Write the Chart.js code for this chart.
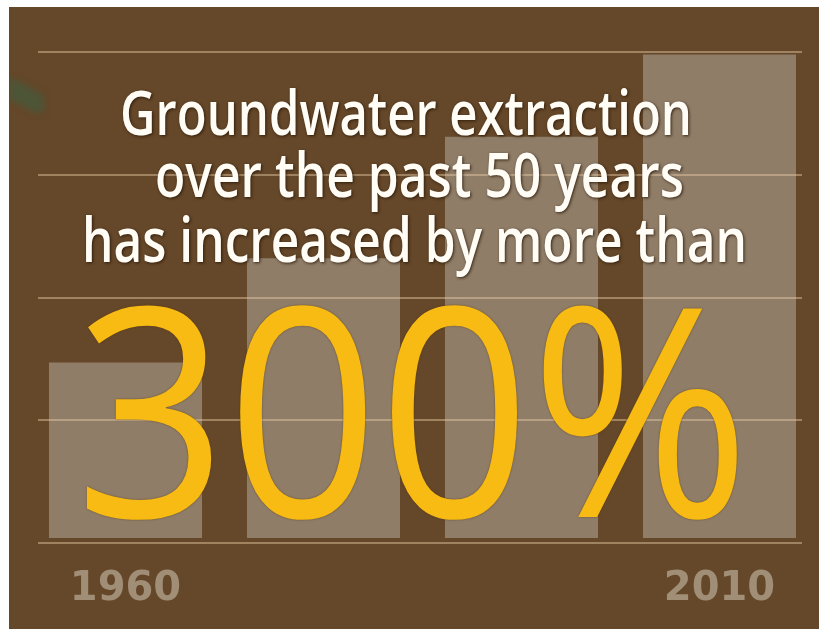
<!DOCTYPE html>
<html lang="en">
<head>
    <meta charset="UTF-8">
    <meta name="viewport" content="width=device-width, initial-scale=1.0">
    <title>Groundwater extraction</title>

    <script src="https://cdn.jsdelivr.net/npm/chart.js"></script>

    <style>
        body { margin: 0; background: #ffffff; }
        #chart-box {
            position: absolute;
            left: 9px;
            top: 7px;
            width: 810px;
            height: 622px;
        }
    </style>
</head>
<body>
    <div id="chart-box">
        <canvas id="groundwater_bar-chart"></canvas>
    </div>

    <script>
        // Data (grid step = 1 unit)
        var years = ["1960", "", "", "2010"];
        var extraction = [1.47, 2.32, 3.31, 3.98];
        var gridValues = [0, 1, 2, 3, 4];

        var titleLines = [
            "Groundwater extraction",
            "over the past 50 years",
            "has increased by more than"
        ];
        var bigNumber = "300%";

        // Paint brown background behind everything
        var backgroundPlugin = {
            id: "backgroundPlugin",
            beforeDraw: function (chart) {
                var ctx = chart.ctx;
                ctx.save();
                ctx.fillStyle = "#654729";
                ctx.fillRect(0, 0, chart.width, chart.height);

                // bit of a green leaf poking in at the left edge
                ctx.filter = "blur(3px)";
                ctx.fillStyle = "rgba(74, 86, 56, 0.9)";
                ctx.beginPath();
                ctx.moveTo(0, 70);
                ctx.lineTo(14, 76);
                ctx.lineTo(34, 88);
                ctx.lineTo(36, 104);
                ctx.lineTo(26, 106);
                ctx.lineTo(8, 96);
                ctx.lineTo(0, 94);
                ctx.closePath();
                ctx.fill();
                ctx.restore();
            }
        };

        // Horizontal lines drawn over the bars
        var gridPlugin = {
            id: "gridPlugin",
            afterDatasetsDraw: function (chart) {
                var ctx = chart.ctx;
                var area = chart.chartArea;
                var y = chart.scales.y;
                ctx.save();
                ctx.strokeStyle = "rgba(232, 204, 166, 0.45)";
                ctx.lineWidth = 2;
                gridValues.forEach(function (v) {
                    var py = Math.round(y.getPixelForValue(v));
                    ctx.beginPath();
                    ctx.moveTo(area.left + 11.5, py);
                    ctx.lineTo(area.right - 16.5, py);
                    ctx.stroke();
                });
                ctx.restore();
            }
        };

        // stretch text horizontally so it fills the given width
        function drawFit(ctx, text, cx, baseline, width, font) {
            ctx.font = font;
            var w = ctx.measureText(text).width;
            ctx.save();
            ctx.translate(cx, baseline);
            ctx.scale(width / w, 1);
            ctx.fillText(text, 0, 0);
            ctx.restore();
        }

        var textPlugin = {
            id: "textPlugin",
            afterDraw: function (chart) {
                var ctx = chart.ctx;
                ctx.save();
                ctx.textAlign = "center";
                ctx.textBaseline = "alphabetic";

                // white headline
                ctx.fillStyle = "#fffdf6";
                ctx.shadowColor = "rgba(40, 22, 5, 0.85)";
                ctx.shadowBlur = 3;
                ctx.shadowOffsetX = 1;
                ctx.shadowOffsetY = 1;
                var font = "600 61px 'Open Sans'";
                drawFit(ctx, titleLines[0], 397, 128, 572, font);
                drawFit(ctx, titleLines[1], 410.5, 190, 529, font);
                drawFit(ctx, titleLines[2], 405.5, 255, 665, font);

                // yellow percentage
                ctx.fillStyle = "#f7bb14";
                ctx.shadowColor = "rgba(90, 55, 10, 0.7)";
                ctx.shadowBlur = 2;
                ctx.shadowOffsetX = 0;
                ctx.shadowOffsetY = 0;
                drawFit(ctx, bigNumber, 403.5, 510, 675, "400 292px 'Open Sans'");
                ctx.restore();
            }
        };

        var ctx = document.getElementById("groundwater_bar-chart");
        var barChart = new Chart(ctx, {
            type: "bar",
            data: {
                labels: years,
                datasets: [
                    {
                        data: extraction,
                        base: 0.04,
                        backgroundColor: "#8f7d68",
                        borderWidth: 0,
                        barPercentage: 0.773,
                        categoryPercentage: 1.0,
                    },
                ]
            },
            options: {
                responsive: true,
                maintainAspectRatio: false,
                animation: false,
                layout: {
                    padding: { left: 17.5, right: 0.5, top: 45, bottom: -7 }
                },
                plugins: {
                    legend: { display: false },
                    tooltip: { enabled: false },
                },
                scales: {
                    x: {
                        grid: { display: false, drawTicks: false },
                        border: { display: false },
                        ticks: {
                            color: "#a08e76",
                            padding: 22.5,
                            maxRotation: 0,
                            autoSkip: false,
                            font: { family: "'DejaVu Sans'", size: 40, weight: "bold" },
                        },
                    },
                    y: {
                        display: false,
                        min: 0,
                        max: 4,
                    },
                },
            },
            plugins: [backgroundPlugin, gridPlugin, textPlugin],
        });
    </script>
</body>
</html>
